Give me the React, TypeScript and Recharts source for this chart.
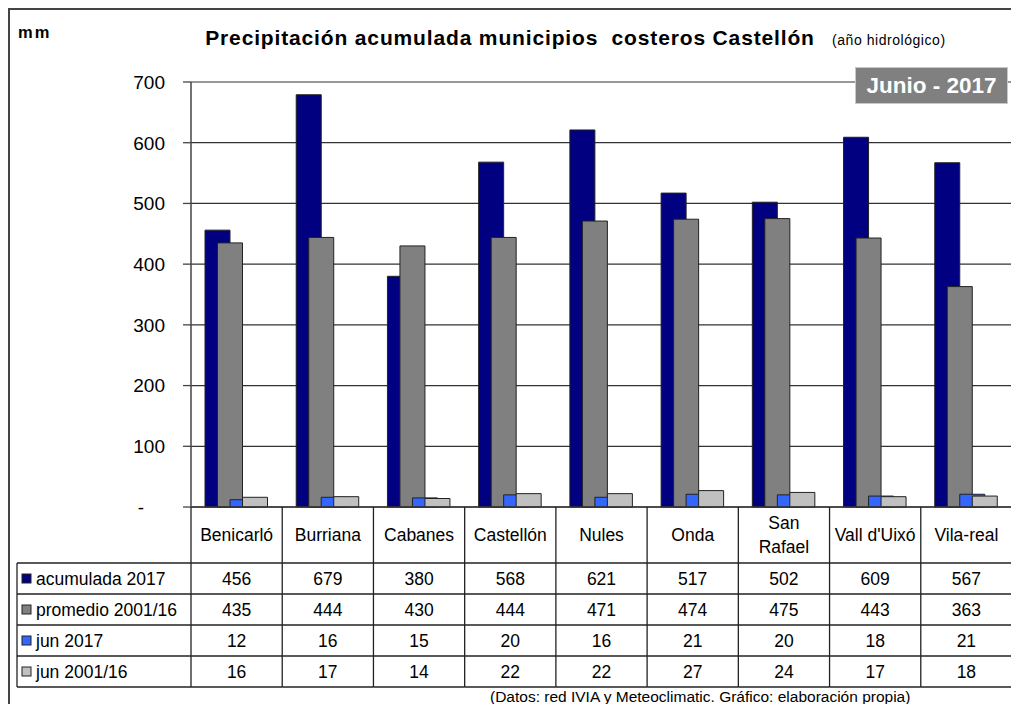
import React from 'react';
import {
  Bar,
  BarChart,
  CartesianGrid,
  ReferenceLine,
  XAxis,
  YAxis,
} from 'recharts';

document.body.style.overflow = 'hidden';

const CATEGORIES = [
  'Benicarló',
  'Burriana',
  'Cabanes',
  'Castellón',
  'Nules',
  'Onda',
  'San\nRafael',
  "Vall d'Uixó",
  'Vila-real',
];
const ACUMULADA_2017 = [456, 679, 380, 568, 621, 517, 502, 609, 567];
const PROMEDIO_2001_16 = [435, 444, 430, 444, 471, 474, 475, 443, 363];
const JUN_2017 = [12, 16, 15, 20, 16, 21, 20, 18, 21];
const JUN_2001_16 = [16, 17, 14, 22, 22, 27, 24, 17, 18];
const Y_TICKS = [0, 100, 200, 300, 400, 500, 600, 700];

const SERIES = [
  { key: 'acumulada', name: 'acumulada 2017', color: '#000080', values: ACUMULADA_2017 },
  { key: 'promedio', name: 'promedio 2001/16', color: '#808080', values: PROMEDIO_2001_16 },
  { key: 'jun', name: 'jun 2017', color: '#3366ff', values: JUN_2017 },
  { key: 'junProm', name: 'jun 2001/16', color: '#c0c0c0', values: JUN_2001_16 },
];

const data = CATEGORIES.map((name, i) => {
  const row: Record<string, string | number> = { name };
  SERIES.forEach((s) => (row[s.key] = s.values[i]));
  return row;
});

const W = 1011;
const H = 696;
const MARGIN = { top: 74, right: 7, left: 0, bottom: 7 };
const Y_AXIS_W = 183;
const X_AXIS_H = 190;
const BAND = (W - MARGIN.left - MARGIN.right - Y_AXIS_W) / CATEGORIES.length;
const LEGEND_LEFT = 9;
const HEADER_H = 56;
const ROW_H = 31;
const LINE = '#222';
const FONT = '"Liberation Sans", Arial, sans-serif';
const TABLE_FONT = 17.5;

function YTick(props: any) {
  const { x, y, payload } = props;
  const zero = payload.value === 0;
  return (
    <text
      x={zero ? x - 21 : x}
      y={y}
      dy="0.36em"
      textAnchor="end"
      fontSize={19}
      fontFamily={FONT}
      fill="#000"
    >
      {zero ? '-' : payload.value}
    </text>
  );
}

function TableTick(props: any) {
  const { x, y, payload } = props;
  const idx = CATEGORIES.indexOf(payload.value);
  const left = x - BAND / 2;
  const right = x + BAND / 2;
  const bottom = y + HEADER_H + ROW_H * SERIES.length;
  const lines = String(payload.value).split('\n');
  const lineStart = idx === 0 ? LEGEND_LEFT : left;

  return (
    <g fontFamily={FONT} fontSize={TABLE_FONT} fill="#000">
      <line x1={left} x2={left} y1={y} y2={bottom} stroke={LINE} strokeWidth={1.3} />
      {idx === CATEGORIES.length - 1 && (
        <line x1={right} x2={right} y1={y} y2={bottom} stroke={LINE} strokeWidth={1.3} />
      )}
      {lines.map((t, i) => (
        <text
          key={i}
          x={x}
          y={y + HEADER_H / 2 + (i - (lines.length - 1) / 2) * 24}
          dy="0.36em"
          textAnchor="middle"
        >
          {t}
        </text>
      ))}
      {SERIES.map((s, r) => {
        const top = y + HEADER_H + r * ROW_H;
        return (
          <g key={s.key}>
            <line x1={lineStart} x2={right} y1={top} y2={top} stroke={LINE} strokeWidth={1.3} />
            <text x={x} y={top + ROW_H / 2} dy="0.36em" textAnchor="middle">
              {s.values[idx]}
            </text>
            {idx === 0 && (
              <g>
                <rect
                  x={LEGEND_LEFT + 5}
                  y={top + ROW_H / 2 - 4.5}
                  width={9}
                  height={9}
                  fill={s.color}
                  stroke={LINE}
                  strokeWidth={1}
                />
                <text x={LEGEND_LEFT + 19} y={top + ROW_H / 2} dy="0.36em">
                  {s.name}
                </text>
              </g>
            )}
          </g>
        );
      })}
      <line x1={lineStart} x2={right} y1={bottom} y2={bottom} stroke={LINE} strokeWidth={1.3} />
      {idx === 0 && (
        <line
          x1={LEGEND_LEFT}
          x2={LEGEND_LEFT}
          y1={y + HEADER_H}
          y2={bottom}
          stroke={LINE}
          strokeWidth={1.3}
        />
      )}
    </g>
  );
}

export default function App() {
  return (
    <div style={{ position: 'relative', width: W, height: H, overflow: 'hidden', fontFamily: FONT, background: '#fff' }}>
      <div
        style={{
          position: 'absolute',
          left: 0,
          top: 0,
          width: W,
          height: H,
          borderLeft: '2px solid #444',
          borderTop: '2px solid #444',
          boxSizing: 'border-box',
          pointerEvents: 'none',
        }}
      />
      <BarChart
        width={W}
        height={H}
        data={data}
        margin={MARGIN}
        barGap={-12.5}
      >
        <CartesianGrid vertical={false} stroke="#333" strokeWidth={1.2} />
        <XAxis
          dataKey="name"
          interval={0}
          tickLine={false}
          tickSize={0}
          tickMargin={0}
          height={X_AXIS_H}
          axisLine={{ stroke: '#333', strokeWidth: 1.3 }}
          tick={(p: any) => <TableTick {...p} />}
        />
        <YAxis
          domain={[0, 700]}
          ticks={Y_TICKS}
          width={Y_AXIS_W}
          tickSize={8}
          tickMargin={18}
          axisLine={{ stroke: '#444', strokeWidth: 1.5 }}
          tickLine={{ stroke: '#444', strokeWidth: 1.3 }}
          tick={(p: any) => <YTick {...p} />}
        />
        <YAxis
          yAxisId="r"
          orientation="right"
          width={0}
          domain={[0, 700]}
          tick={false}
          tickLine={false}
          axisLine={{ stroke: '#999', strokeWidth: 1.3 }}
        />
        <ReferenceLine y={700} stroke="#999" strokeWidth={1.3} />
        {SERIES.map((s) => (
          <Bar
            key={s.key}
            dataKey={s.key}
            name={s.name}
            fill={s.color}
            stroke="#222"
            strokeWidth={1}
            barSize={25}
            isAnimationActive={false}
          />
        ))}
      </BarChart>
      <div
        style={{
          position: 'absolute',
          left: 10,
          top: 15,
          fontSize: 16.5,
          lineHeight: '18px',
          fontWeight: 700,
          letterSpacing: 2,
        }}
      >
        mm
      </div>
      <div
        style={{
          position: 'absolute',
          left: 197,
          width: 610,
          top: 18,
          textAlign: 'center',
          fontSize: 21,
          lineHeight: '24px',
          fontWeight: 700,
          letterSpacing: 0.85,
          whiteSpace: 'pre',
        }}
      >
        {'Precipitación acumulada municipios  costeros Castellón'}
      </div>
      <div
        style={{
          position: 'absolute',
          left: 824,
          top: 24,
          fontSize: 14,
          lineHeight: '16px',
          letterSpacing: 0.55,
          whiteSpace: 'nowrap',
        }}
      >
        (año hidrológico)
      </div>
      <div
        style={{
          position: 'absolute',
          left: 847,
          top: 59,
          width: 153,
          height: 37,
          boxSizing: 'border-box',
          background: '#808080',
          border: '1px solid #c8c8c8',
          color: '#fff',
          fontWeight: 700,
          fontSize: 22.5,
          lineHeight: '35px',
          textAlign: 'center',
          whiteSpace: 'nowrap',
        }}
      >
        Junio - 2017
      </div>
      <div
        style={{
          position: 'absolute',
          left: 482,
          top: 680,
          fontSize: 15.5,
          lineHeight: '18px',
          whiteSpace: 'nowrap',
        }}
      >
        (Datos: red IVIA y Meteoclimatic. Gráfico: elaboración propia)
      </div>
    </div>
  );
}
